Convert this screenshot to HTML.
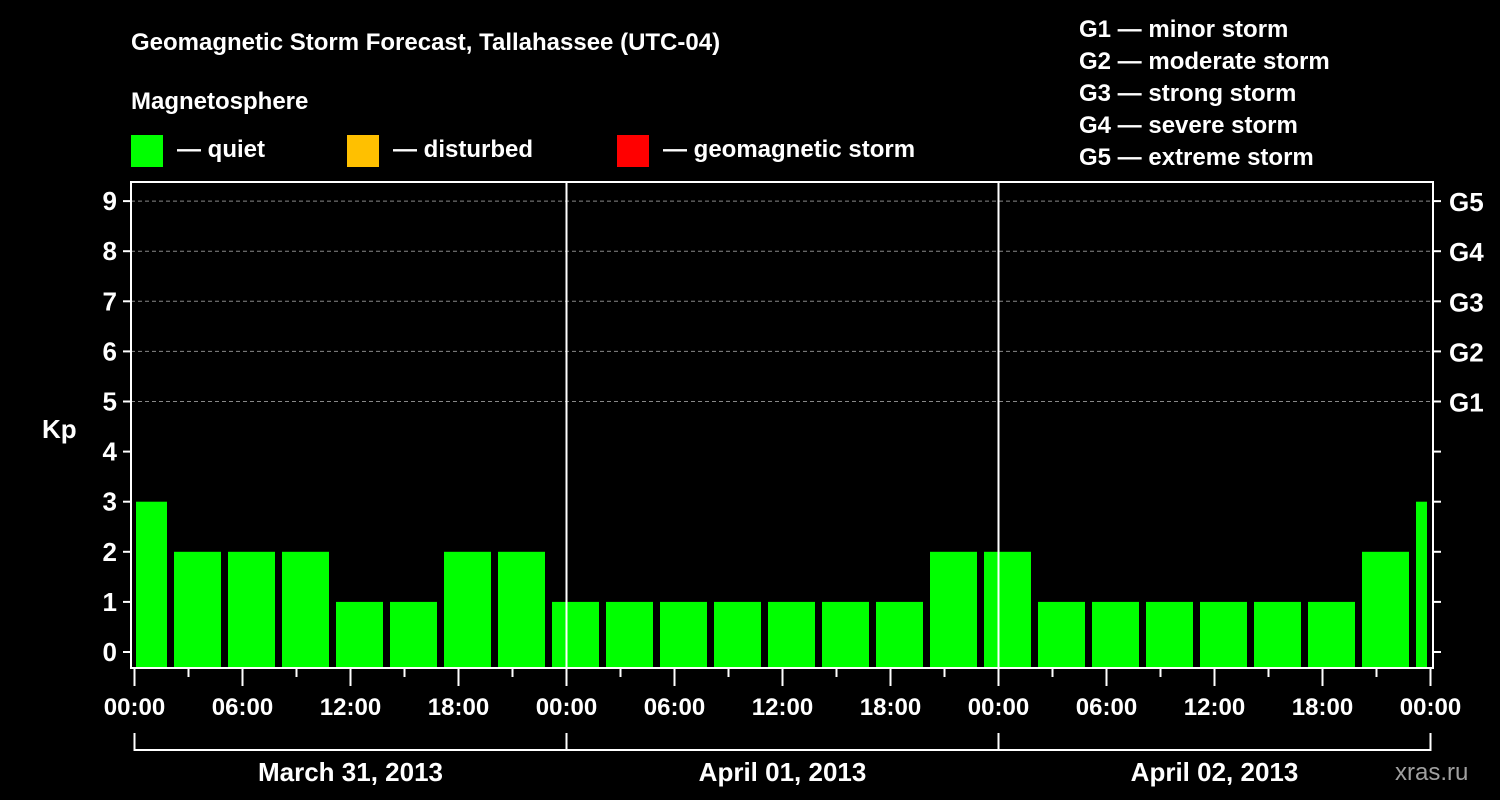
<!DOCTYPE html>
<html><head><meta charset="utf-8"><style>
body{margin:0;background:#000;width:1500px;height:800px;overflow:hidden}
svg{display:block}
text{font-family:"Liberation Sans",Arial,sans-serif;font-weight:bold;fill:#fff}
</style></head><body>
<svg id="c" width="1500" height="800" xmlns="http://www.w3.org/2000/svg">
<rect width="1500" height="800" fill="#000"/>
<text x="131" y="50" font-size="24">Geomagnetic Storm Forecast, Tallahassee (UTC-04)</text>
<text x="131" y="109" font-size="24">Magnetosphere</text>
<rect x="131" y="135" width="32" height="32" fill="#00ff00"/>
<text x="177" y="157" font-size="24">— quiet</text>
<rect x="347" y="135" width="32" height="32" fill="#ffc000"/>
<text x="393" y="157" font-size="24">— disturbed</text>
<rect x="617" y="135" width="32" height="32" fill="#ff0000"/>
<text x="663" y="157" font-size="24">— geomagnetic storm</text>
<g font-size="24">
<text x="1079" y="37">G1 — minor storm</text>
<text x="1079" y="69">G2 — moderate storm</text>
<text x="1079" y="101">G3 — strong storm</text>
<text x="1079" y="133">G4 — severe storm</text>
<text x="1079" y="165">G5 — extreme storm</text>
</g>
<text x="42" y="438" font-size="26">Kp</text>
<text x="1395" y="780" font-size="24" fill="#aaa" style="fill:#a0a0a0;font-weight:normal">xras.ru</text>
<g id="grid"></g><g id="bars"></g><g id="axes"></g>
</svg>
<script>
const kpValues=[3,2,2,2,1,1,2,2,1, 1,1,1,1,1,1,2,2, 1,1,1,1,1,1,2,3];
const barStartHours=[-1,2,5,8,11,14,17,20,23,26,29,32,35,38,41,44,47,50,53,56,59,62,65,68,71];
const yTicks=[0,1,2,3,4,5,6,7,8,9];
const gLabels=[["G1",5],["G2",6],["G3",7],["G4",8],["G5",9]];
const xTickLabels=["00:00","06:00","12:00","18:00","00:00","06:00","12:00","18:00","00:00","06:00","12:00","18:00","00:00"];
const dayLabels=["March 31, 2013","April 01, 2013","April 02, 2013"];
const NS="http://www.w3.org/2000/svg";
const X0=134.5,PXH=432/24,L=131,R=1433,T=182,B=668;
const x=h=>X0+h*PXH, y=v=>652-v*50.1;
function mk(p,t,a){const e=document.createElementNS(NS,t);for(const k in a)e.setAttribute(k,a[k]);p.appendChild(e);return e;}
const grid=document.getElementById('grid'),bars=document.getElementById('bars'),axes=document.getElementById('axes');
[5,6,7,8,9].forEach(v=>{const l=mk(grid,'line',{x1:L,x2:R,y1:y(v),y2:y(v),stroke:'#888','stroke-dasharray':'4,3','stroke-width':1});

});
kpValues.forEach((v,i)=>{const h=barStartHours[i];let a=x(h)+3.5,b=x(h+3)-3.5;a=Math.max(a,L+5);b=Math.min(b,R-6);
const col=v>=5?'#ff0000':(v>=4?'#ffc000':'#00ff00');
const r=mk(bars,'rect',{x:a,y:y(v),width:b-a,height:B-y(v),fill:col});

});
[1,2].forEach(d=>{const l=mk(axes,'line',{x1:x(d*24),x2:x(d*24),y1:T,y2:B,stroke:'#fff','stroke-width':2});

});
const fr=mk(axes,'rect',{x:L,y:T,width:R-L,height:B-T,fill:'none',stroke:'#fff','stroke-width':2});


yTicks.forEach(v=>{mk(axes,'line',{x1:L-8,x2:L,y1:y(v),y2:y(v),stroke:'#fff','stroke-width':2});
mk(axes,'line',{x1:R,x2:R+8,y1:y(v),y2:y(v),stroke:'#fff','stroke-width':2});
const t=mk(axes,'text',{x:L-14,y:y(v)+9,'font-size':26,'text-anchor':'end'});t.textContent=v;

});
gLabels.forEach(([g,v])=>{const t=mk(axes,'text',{x:1449,y:y(v)+10,'font-size':26});t.textContent=g;

});
for(let h=0;h<=72;h+=3){const maj=h%6==0;mk(axes,'line',{x1:x(h),x2:x(h),y1:B,y2:B+(maj?18:9),stroke:'#fff','stroke-width':2});}
xTickLabels.forEach((s,i)=>{const t=mk(axes,'text',{x:x(i*6),y:715,'font-size':24,'text-anchor':'middle'});t.textContent=s;

});
mk(axes,'line',{x1:x(0),x2:x(72),y1:750,y2:750,stroke:'#fff','stroke-width':2});
for(let d=0;d<=3;d++)mk(axes,'line',{x1:x(d*24),x2:x(d*24),y1:733,y2:751,stroke:'#fff','stroke-width':2});
dayLabels.forEach((s,i)=>{const t=mk(axes,'text',{x:x(i*24+12),y:781,'font-size':26,'text-anchor':'middle'});t.textContent=s;

});
</script>
</body></html>
